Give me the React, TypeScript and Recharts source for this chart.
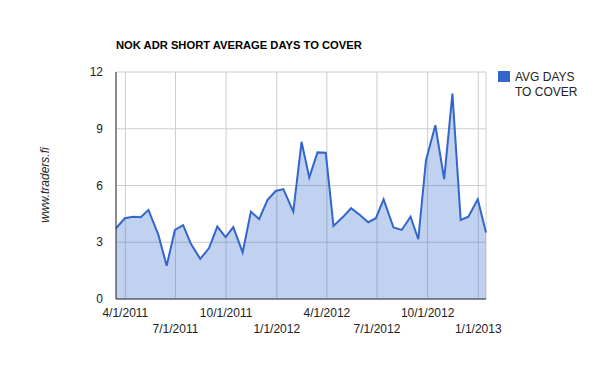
import React from 'react'
import { AreaChart, Area, XAxis, YAxis, CartesianGrid } from 'recharts'

const dates = [
  '3/15/2011', '3/31/2011', '4/15/2011', '4/29/2011', '5/13/2011', '5/31/2011',
  '6/15/2011', '6/30/2011', '7/15/2011', '7/29/2011', '8/15/2011', '8/31/2011',
  '9/15/2011', '9/30/2011', '10/14/2011', '10/31/2011', '11/15/2011', '11/30/2011',
  '12/15/2011', '12/30/2011', '1/13/2012', '1/31/2012', '2/15/2012', '2/29/2012',
  '3/15/2012', '3/30/2012', '4/13/2012', '4/30/2012', '5/15/2012', '5/31/2012',
  '6/15/2012', '6/29/2012', '7/13/2012', '7/31/2012', '8/15/2012', '8/31/2012',
  '9/14/2012', '9/28/2012', '10/15/2012', '10/31/2012', '11/15/2012', '11/30/2012',
  '12/14/2012', '12/31/2012', '1/15/2013',
]

const daysToCover = [
  3.74, 4.27, 4.35, 4.32, 4.71, 3.39, 1.76, 3.65, 3.9, 2.92, 2.12, 2.69,
  3.83, 3.27, 3.8, 2.46, 4.62, 4.22, 5.23, 5.71, 5.81, 4.62, 8.31, 6.43,
  7.75, 7.73, 3.86, 4.33, 4.8, 4.44, 4.06, 4.27, 5.27, 3.78, 3.65, 4.35,
  3.16, 7.34, 9.19, 6.34, 10.86, 4.18, 4.35, 5.27, 3.51,
]

const xTickLabels = [
  '4/1/2011', '7/1/2011', '10/1/2011', '1/1/2012',
  '4/1/2012', '7/1/2012', '10/1/2012', '1/1/2013',
]

const yTicks = [0, 3, 6, 9, 12]

const FONT = "Arial, 'Liberation Sans', sans-serif"
const BLUE = '#3366cc'

function toTime(s: string) {
  const [m, d, y] = s.split('/').map(Number)
  return Date.UTC(y, m - 1, d)
}

const data = dates.map((d, i) => ({ t: toTime(d), value: daysToCover[i] }))
const xTicks = xTickLabels.map(toTime)

// staggered date labels, two rows like the original
function XTick(props: any) {
  const { x, y, payload, index } = props
  const row = index % 2
  return (
    <text
      x={x}
      y={y + 10 + row * 16}
      textAnchor="middle"
      fontSize={12}
      fontFamily={FONT}
      fill="#222"
    >
      {xTickLabels[index] ?? payload.value}
    </text>
  )
}

function YTick(props: any) {
  const { y, payload } = props
  return (
    <text x={103} y={y + 4} textAnchor="end" fontSize={12} fontFamily={FONT} fill="#222">
      {payload.value}
    </text>
  )
}

export default function App() {
  return (
    <div style={{ position: 'absolute', left: 0, top: 0, width: 600, height: 371, background: '#fff' }}>
      <div
        style={{
          position: 'absolute',
          left: 116,
          top: 39,
          fontFamily: FONT,
          fontSize: 11.2,
          fontWeight: 'bold',
          color: '#000',
          whiteSpace: 'nowrap',
        }}
      >
        NOK ADR SHORT AVERAGE DAYS TO COVER
      </div>
      <div
        style={{
          position: 'absolute',
          left: 45,
          top: 185,
          transform: 'translate(-50%, -50%) rotate(-90deg)',
          fontFamily: FONT,
          fontSize: 12,
          fontStyle: 'italic',
          color: '#222',
          whiteSpace: 'nowrap',
        }}
      >
        www.traders.fi
      </div>
      <div style={{ position: 'absolute', left: 498, top: 71, width: 12, height: 11, background: BLUE }} />
      <div
        style={{
          position: 'absolute',
          left: 515,
          top: 70,
          fontFamily: FONT,
          fontSize: 12,
          lineHeight: '15px',
          color: '#222',
        }}
      >
        AVG DAYS
        <br />
        TO COVER
      </div>
      <AreaChart
        width={600}
        height={371}
        data={data}
        margin={{ top: 72, right: 114, bottom: 32, left: 0 }}
        style={{ position: 'absolute', left: 0, top: 0 }}
      >
        <CartesianGrid stroke="#ccc" strokeWidth={1} />
        <XAxis
          dataKey="t"
          type="number"
          scale="time"
          domain={[data[0].t, data[data.length - 1].t]}
          ticks={xTicks}
          tick={<XTick />}
          tickLine={false}
          axisLine={{ stroke: '#333', strokeWidth: 1 }}
          height={40}
          interval={0}
        />
        <YAxis
          domain={[0, 12]}
          ticks={yTicks}
          tick={<YTick />}
          tickLine={false}
          axisLine={{ stroke: '#333', strokeWidth: 1 }}
          width={116}
          interval={0}
        />
        <Area
          type="linear"
          dataKey="value"
          stroke={BLUE}
          strokeWidth={2}
          fill={BLUE}
          fillOpacity={0.3}
          dot={false}
          activeDot={false}
          isAnimationActive={false}
        />
      </AreaChart>
    </div>
  )
}
